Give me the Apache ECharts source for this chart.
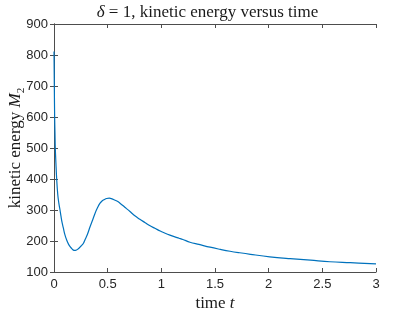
<!DOCTYPE html>
<html>
<head>
<meta charset="utf-8">
<script src="https://cdn.jsdelivr.net/npm/echarts@6/dist/echarts.min.js"></script>
<style>html,body{margin:0;padding:0;background:#fff}#c{width:415px;height:312px}</style>
</head>
<body>
<div id="c"></div>
<script>
var times = [0, 0.0015, 0.003, 0.006, 0.009, 0.012, 0.018, 0.025, 0.035, 0.045, 0.056, 0.065, 0.075, 0.087, 0.1, 0.118, 0.135, 0.15, 0.17, 0.186, 0.2, 0.23, 0.25, 0.273, 0.29, 0.31, 0.336, 0.36, 0.382, 0.405, 0.429, 0.45, 0.47, 0.49, 0.515, 0.54, 0.56, 0.59, 0.615, 0.66, 0.708, 0.75, 0.8, 0.85, 0.895, 0.94, 0.99, 1.03, 1.08, 1.12, 1.165, 1.2, 1.267, 1.35, 1.454, 1.55, 1.64, 1.73, 1.83, 2.01, 2.2, 2.39, 2.57, 2.76, 3.0];
var energy = [811, 755, 700, 600, 550, 500, 450, 400, 350, 322, 300, 280, 260, 242, 222, 203, 190, 182, 174, 170, 170, 176, 183, 192, 205, 220, 246, 268, 289, 307, 322, 330, 334, 337, 338, 336, 333, 328, 322, 309, 295, 282, 270, 259, 249, 241, 232, 226, 219, 214, 209, 205, 196, 189, 180, 173, 167, 162, 157, 149, 143, 138, 133, 130, 126];
var xTicks = ['0', '0.5', '1', '1.5', '2', '2.5', '3'];
var yTicks = ['100', '200', '300', '400', '500', '600', '700', '800', '900'];

var data = times.map(function (t, i) { return [t, energy[i]]; });
var axisColor = '#4d4d4d';
var tickFont = {color: '#262626', fontSize: 13, fontFamily: 'Liberation Sans, Arial, sans-serif'};
var serif = 'Liberation Serif, Times New Roman, serif';
var txt = '#1a1a1a';

var chart = echarts.init(document.getElementById('c'), null, {renderer: 'canvas'});
chart.setOption({
  animation: false,
  title: {
    text: '{i|δ} = 1, kinetic energy versus time',
    left: 'center', top: -1,
    textStyle: {
      fontFamily: serif, fontSize: 17, fontWeight: 'normal', color: txt,
      rich: {i: {fontFamily: serif, fontSize: 17, fontStyle: 'italic', color: txt}}
    }
  },
  grid: {left: 54, right: 39, top: 24, bottom: 40, outerBoundsMode: 'none', containLabel: false},
  xAxis: [{
    type: 'value', min: 0, max: 3, interval: 0.5, position: 'bottom',
    axisLine: {show: true, lineStyle: {color: axisColor, width: 1}},
    axisTick: {show: true, inside: true, length: 4, lineStyle: {color: axisColor}},
    axisLabel: Object.assign({margin: 6, formatter: function (v) { return xTicks[Math.round(v * 2)]; }}, tickFont),
    splitLine: {show: false},
    name: '{a|time }{i|t}', nameLocation: 'middle', nameGap: 23, nameMoveOverlap: false,
    nameTextStyle: {fontFamily: serif, fontSize: 17, color: txt,
      rich: {a: {fontFamily: serif, fontSize: 17, color: txt}, i: {fontFamily: serif, fontSize: 17, fontStyle: 'italic', color: txt}}}
  }, {
    type: 'value', min: 0, max: 3, interval: 0.5, position: 'top',
    axisLine: {show: true, lineStyle: {color: axisColor, width: 1}},
    axisTick: {show: true, inside: true, length: 4, lineStyle: {color: axisColor}},
    axisLabel: {show: false}, splitLine: {show: false}
  }],
  yAxis: [{
    type: 'value', min: 100, max: 900, interval: 100, position: 'left',
    axisLine: {show: true, lineStyle: {color: axisColor, width: 1}},
    axisTick: {show: true, inside: true, length: 4, lineStyle: {color: axisColor}},
    axisLabel: Object.assign({margin: 6, formatter: function (v) { return yTicks[Math.round((v - 100) / 100)]; }}, tickFont),
    splitLine: {show: false},
    name: '{a|kinetic energy }{i|M}{s|2}', nameLocation: 'middle', nameGap: 27, nameRotate: 90, nameMoveOverlap: false,
    nameTextStyle: {fontFamily: serif, fontSize: 17, color: txt,
      rich: {
        a: {fontFamily: serif, fontSize: 17, color: txt, lineHeight: 22},
        i: {fontFamily: serif, fontSize: 17, fontStyle: 'italic', color: txt, lineHeight: 22},
        s: {fontFamily: serif, fontSize: 11, color: txt, verticalAlign: 'bottom', lineHeight: 22, padding: [7, 0, 0, 0]}
      }}
  }, {
    type: 'value', min: 100, max: 900, interval: 100, position: 'right',
    axisLine: {show: true, lineStyle: {color: axisColor, width: 1}},
    axisTick: {show: true, inside: true, length: 4, lineStyle: {color: axisColor}},
    axisLabel: {show: false}, splitLine: {show: false}
  }],
  series: [{
    type: 'line', data: data, xAxisIndex: 0, yAxisIndex: 0,
    showSymbol: false, smooth: 0.4,
    lineStyle: {color: '#0072BD', width: 1.2},
    clip: true
  }]
});
</script>
</body>
</html>
